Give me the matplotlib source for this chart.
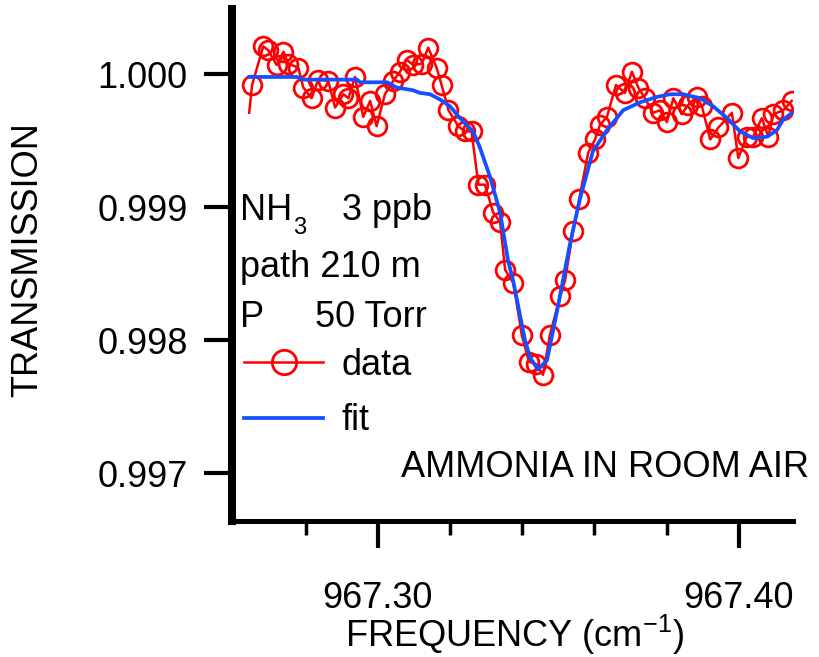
import matplotlib
matplotlib.use("Agg")
import matplotlib.pyplot as plt
from matplotlib.ticker import FixedLocator, FormatStrFormatter
from matplotlib.lines import Line2D

plt.rcParams['font.family'] = ['Liberation Sans', 'DejaVu Sans']
plt.rcParams['mathtext.fontset'] = 'custom'
plt.rcParams['mathtext.rm'] = 'Liberation Sans'
plt.rcParams['mathtext.it'] = 'Liberation Sans'

# measured spectrum (first point drawn without a marker)
freq_data = [967.2644, 967.2652, 967.2683, 967.2697, 967.2720, 967.2739, 967.2752,
             967.2780, 967.2794, 967.2817, 967.2835, 967.2863, 967.2882, 967.2905,
             967.2919, 967.2937, 967.2960, 967.2979, 967.2997, 967.3020, 967.3043,
             967.3062, 967.3080, 967.3099, 967.3122, 967.3140, 967.3163, 967.3177,
             967.3196, 967.3223, 967.3242, 967.3260, 967.3279, 967.3297, 967.3320,
             967.3339, 967.3353, 967.3376, 967.3399, 967.3419, 967.3439, 967.3458,
             967.3477, 967.3505, 967.3519, 967.3541, 967.3558, 967.3583, 967.3602,
             967.3616, 967.3635, 967.3660, 967.3685, 967.3704, 967.3722, 967.3740,
             967.3763, 967.3782, 967.3801, 967.3819, 967.3842, 967.3860, 967.3884,
             967.3898, 967.3921, 967.3944, 967.3981, 967.3999, 967.4022, 967.4040,
             967.4064, 967.4082, 967.4096, 967.4124, 967.4147]
trans_data = [0.99971, 0.99992, 1.00021, 1.00018, 1.00007, 1.00017, 1.00008,
              1.00005, 0.99990, 0.99982, 0.99996, 0.99995, 0.99975, 0.99985,
              0.99982, 0.99998, 0.99968, 0.99980, 0.99961, 0.99985, 0.99995,
              1.00002, 1.00011, 1.00007, 1.00008, 1.00020, 1.00005, 0.99992,
              0.99973, 0.99961, 0.99957, 0.99957, 0.99917, 0.99917, 0.99896,
              0.99889, 0.99853, 0.99843, 0.99804, 0.99784, 0.99782, 0.99774,
              0.99804, 0.99833, 0.99845, 0.99882, 0.99906, 0.99941, 0.99951,
              0.99962, 0.99968, 0.99992, 0.99986, 1.00002, 0.99990, 0.99982,
              0.99971, 0.99973, 0.99964, 0.99982, 0.99970, 0.99977, 0.99983,
              0.99976, 0.99951, 0.99960, 0.99971, 0.99937, 0.99953, 0.99953,
              0.99967, 0.99953, 0.99970, 0.99973, 0.99980]

# fitted line shape
freq_fit = [967.2644, 967.2777, 967.2793, 967.2943, 967.2951, 967.3026, 967.3053,
            967.3098, 967.3117, 967.3145, 967.3173, 967.3200, 967.3228, 967.3264,
            967.3283, 967.3311, 967.3339, 967.3361, 967.3375, 967.3408, 967.3422,
            967.3444, 967.3469, 967.3499, 967.3533, 967.3560, 967.3596, 967.3635,
            967.3680, 967.3727, 967.3774, 967.3810, 967.3846, 967.3893, 967.3929,
            967.3968, 967.4004, 967.4040, 967.4078, 967.4106, 967.4123, 967.4148]
trans_fit = [0.99998, 0.99998, 0.99996, 0.99996, 0.99994, 0.99994, 0.99990,
             0.99988, 0.99986, 0.99985, 0.99981, 0.99976, 0.99967, 0.99957,
             0.99945, 0.99923, 0.99896, 0.99860, 0.99845, 0.99800, 0.99787,
             0.99778, 0.99785, 0.99825, 0.99873, 0.99906, 0.99942, 0.99958,
             0.99973, 0.99979, 0.99983, 0.99985, 0.99985, 0.99982, 0.99976,
             0.99967, 0.99957, 0.99952, 0.99953, 0.99958, 0.99966, 0.99971]

x_major = [967.30, 967.40]
x_minor = [967.28, 967.32, 967.34, 967.36, 967.38]
y_major = [0.997, 0.998, 0.999, 1.000]

W, H = 819, 657
RED = '#ff0000'
BLUE = '#1450ff'
FS = 26


def fpos(x, y):
    # pixel position -> figure fraction
    return x / W, 1 - y / H


fig = plt.figure(figsize=(W / 100, H / 100), dpi=100)
ax = fig.add_axes([232 / W, 1 - 521 / H, (793 - 232) / W, (521 - 9) / H])

ax.plot(freq_data, trans_data, color=RED, lw=1.8, marker='o', ms=13.5,
        mfc='none', mec=RED, mew=2.0, markevery=slice(1, None))
ax.plot(freq_fit, trans_fit, color=BLUE, lw=2.7)

ax.set_xlim(967.25964, 967.41504)
ax.set_ylim(0.996641, 1.000491)

for s in ['top', 'right']:
    ax.spines[s].set_visible(False)
ax.spines['left'].set_linewidth(5.8)
ax.spines['bottom'].set_linewidth(3.6)

ax.xaxis.set_major_locator(FixedLocator(x_major))
ax.xaxis.set_major_formatter(FormatStrFormatter('%.2f'))
ax.xaxis.set_minor_locator(FixedLocator(x_minor))
ax.yaxis.set_major_locator(FixedLocator(y_major))
ax.yaxis.set_major_formatter(FormatStrFormatter('%.3f'))

ax.tick_params(axis='x', which='major', direction='out', length=19.5, width=3,
               pad=24, labelsize=FS)
ax.tick_params(axis='x', which='minor', direction='out', length=10, width=2.5)
ax.tick_params(axis='y', which='major', direction='out', length=20, width=3,
               pad=12, labelsize=FS)

# annotations
fig.text(*fpos(240, 220), 'NH', fontsize=FS, va='baseline')
fig.text(*fpos(293, 234), '3', fontsize=17, va='baseline')
fig.text(*fpos(342, 220), '3 ppb', fontsize=FS, va='baseline')
fig.text(*fpos(240, 277), 'path 210 m', fontsize=FS, va='baseline')
fig.text(*fpos(240, 327), 'P', fontsize=FS, va='baseline')
fig.text(*fpos(315, 327), '50 Torr', fontsize=FS, va='baseline')
fig.text(*fpos(605, 477), 'AMMONIA IN ROOM AIR', fontsize=FS, va='baseline', ha='center')

fig.text(*fpos(28, 260), 'TRANSMISSION', fontsize=FS, rotation=90, va='center', ha='center')
fig.text(*fpos(515, 647), 'FREQUENCY (cm$^{-1}$)', fontsize=FS, va='baseline', ha='center')

handles = [Line2D([], [], color=RED, lw=1.8, marker='o', ms=13.5, mfc='none', mec=RED, mew=2.0),
           Line2D([], [], color=BLUE, lw=2.7)]
ax.legend(handles, ['data', 'fit'], loc='upper left', bbox_to_anchor=fpos(244, 348),
          bbox_transform=fig.transFigure, frameon=False, borderpad=0, borderaxespad=0,
          handlelength=2.2, handletextpad=0.5, labelspacing=0.56, markerscale=1.3,
          fontsize=FS)

fig.savefig('out.png', dpi=100)
